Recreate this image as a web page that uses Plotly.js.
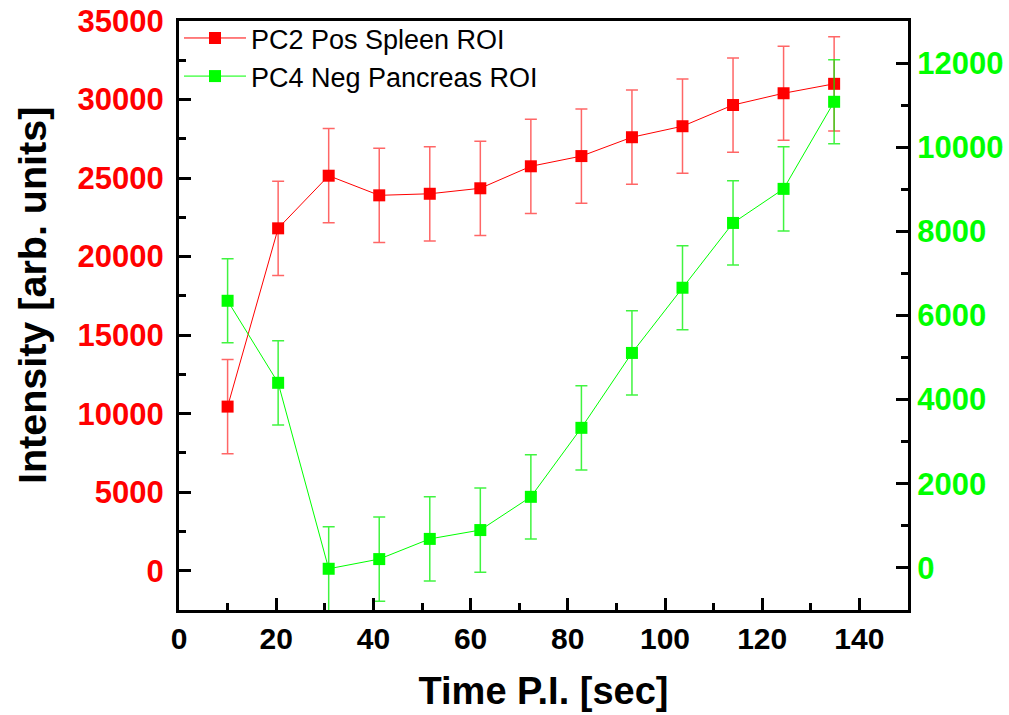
<!DOCTYPE html>
<html>
<head>
<meta charset="utf-8">
<script src="https://cdn.plot.ly/plotly-3.0.1.min.js"></script>
<style>html,body{margin:0;padding:0;background:#fff;}#chart{width:1009px;height:715px;}</style>
</head>
<body>
<div id="chart"></div>
<script>
// Time P.I. [sec]
const timeSec = [10, 20.4, 30.8, 41.2, 51.6, 62, 72.4, 82.8, 93.2, 103.6, 114, 124.4, 134.8];
// PC2 Pos Spleen ROI (left axis)
const spleenValues = [10450, 21800, 25150, 23900, 24000, 24350, 25750, 26400, 27600, 28300, 29650, 30400, 31000];
const spleenErrors = [3000, 3000, 3000, 3000, 3000, 3000, 3000, 3000, 3000, 3000, 3000, 3000, 3000];
// PC4 Neg Pancreas ROI (right axis)
const pancreasValues = [6350, 4400, -20, 210, 690, 900, 1690, 3330, 5110, 6660, 8200, 9010, 11080];
const pancreasErrors = [1000, 1000, 1000, 1000, 1000, 1000, 1000, 1000, 1000, 1000, 1000, 1000, 1000];

const seriesNames = ['PC2 Pos Spleen ROI', 'PC4 Neg Pancreas ROI'];
const xTitle = 'Time P.I. [sec]';
const yTitle = 'Intensity [arb. units]';

const FONT = 'Arial, "Liberation Sans", sans-serif';

const traces = [
  {x: timeSec, y: pancreasValues, yaxis: 'y2', name: seriesNames[1], type: 'scatter', mode: 'lines+markers',
   line: {color: '#00ff00', width: 1}, marker: {symbol: 'square', size: 12, color: '#00ff00'},
   error_y: {type: 'data', array: pancreasErrors, visible: true, color: 'rgba(0,240,0,0.75)', thickness: 1.5, width: 6}},
  {x: timeSec, y: spleenValues, yaxis: 'y', name: seriesNames[0], type: 'scatter', mode: 'lines+markers',
   line: {color: '#ff0000', width: 1}, marker: {symbol: 'square', size: 12, color: '#ff0000'},
   error_y: {type: 'data', array: spleenErrors, visible: true, color: 'rgba(255,0,0,0.6)', thickness: 1.5, width: 6}}
];

const layout = {
  width: 1009, height: 715,
  margin: {l: 179, r: 101, t: 21, b: 105, pad: 0},
  paper_bgcolor: '#ffffff', plot_bgcolor: '#ffffff',
  font: {family: FONT, color: '#000'},
  showlegend: true,
  legend: {x: 0.0, y: 1.012, xanchor: 'left', yanchor: 'top', bgcolor: 'rgba(0,0,0,0)', borderwidth: 0,
    font: {family: FONT, size: 27, color: '#000'}, itemwidth: 62, traceorder: 'reversed'},
  xaxis: {range: [0, 150], dtick: 20, tick0: 0, tickformat: 'd',
    ticks: 'inside', ticklen: 12, tickwidth: 3, tickcolor: '#000',
    minor: {dtick: 10, ticks: 'inside', ticklen: 7, tickwidth: 3, tickcolor: '#000'},
    showline: true, linewidth: 3, linecolor: '#000', mirror: true, showgrid: false, zeroline: false,
    tickfont: {family: FONT, size: 30, color: '#000', weight: 'bold'},
    title: {text: xTitle, font: {family: FONT, size: 38, color: '#000', weight: 'bold'}, standoff: 24}},
  yaxis: {range: [-2500, 35000], dtick: 5000, tick0: 0, tickformat: 'd',
    ticks: 'inside', ticklen: 12, tickwidth: 3, tickcolor: '#000',
    minor: {dtick: 2500, ticks: 'inside', ticklen: 7, tickwidth: 3, tickcolor: '#000'},
    showline: true, linewidth: 3, linecolor: '#000', showgrid: false, zeroline: false,
    tickfont: {family: FONT, size: 31, color: '#ff0000', weight: 'bold'}, ticklabelstandoff: 6},
  yaxis2: {overlaying: 'y', side: 'right', range: [-1000, 13000], dtick: 2000, tick0: 0, tickformat: 'd',
    ticks: 'inside', ticklen: 12, tickwidth: 3, tickcolor: '#000',
    minor: {dtick: 1000, ticks: 'inside', ticklen: 7, tickwidth: 3, tickcolor: '#000'},
    showline: true, linewidth: 3, linecolor: '#000', showgrid: false, zeroline: false,
    tickfont: {family: FONT, size: 31, color: '#00ff00', weight: 'bold'}},
  annotations: [{text: yTitle, xref: 'paper', yref: 'paper', x: -0.2016, y: 0.533, xanchor: 'center', yanchor: 'middle',
    textangle: -90, showarrow: false, font: {family: FONT, size: 39.5, color: '#000', weight: 'bold'}}]
};

Plotly.newPlot('chart', traces, layout, {staticPlot: true, displayModeBar: false});
</script>
</body>
</html>
